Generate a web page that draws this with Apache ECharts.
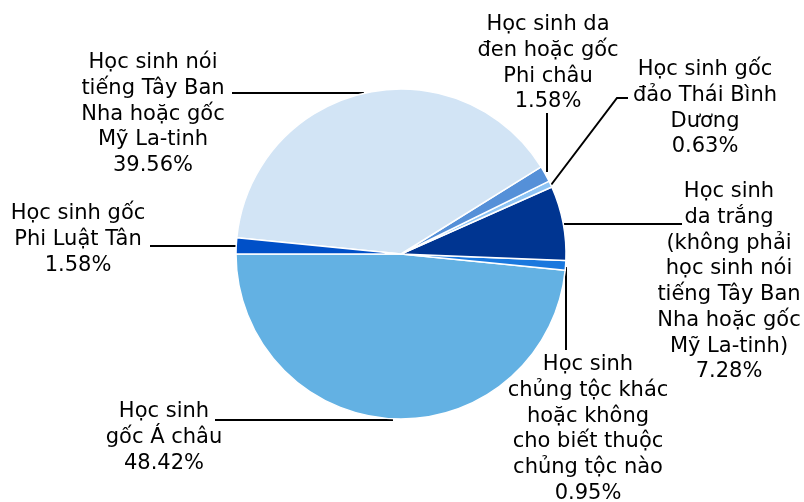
<!DOCTYPE html>
<html>
<head>
<meta charset="utf-8">
<script src="https://cdn.jsdelivr.net/npm/echarts@6/dist/echarts.min.js"></script>
<style>
  html, body { margin: 0; padding: 0; background: #fff; }
  #chart { width: 804px; height: 502px; }
</style>
</head>
<body>
<div id="chart"></div>
<script>
  // slice order: counter-clockwise starting from 9 o'clock
  const names = [
    'Học sinh\ngốc Á châu',
    'Học sinh\nchủng tộc khác\nhoặc không\ncho biết thuộc\nchủng tộc nào',
    'Học sinh\nda trắng\n(không phải\nhọc sinh nói\ntiếng Tây Ban\nNha hoặc gốc\nMỹ La-tinh)',
    'Học sinh gốc\nđảo Thái Bình\nDương',
    'Học sinh da\nđen hoặc gốc\nPhi châu',
    'Học sinh nói\ntiếng Tây Ban\nNha hoặc gốc\nMỹ La-tinh',
    'Học sinh gốc\nPhi Luật Tân'
  ]
  const percents = [48.42, 0.95, 7.28, 0.63, 1.58, 39.56, 1.58]
  const colors = ['#63b1e3', '#1a78de', '#003591', '#8ec4f4', '#5590d8', '#d2e4f5', '#0050c8']

  // label placement (center x, top y) and leader lines
  const labelPos = [
    { x: 164, y: 399, line: [[393, 420], [300, 420], [215, 420]] },
    { x: 588, y: 352, line: [[566, 267], [566, 300], [566, 350]] },
    { x: 729, y: 179, line: [[564, 224], [620, 224], [682, 224]] },
    { x: 705, y: 57, line: [[551, 185], [617, 98], [628, 98]] },
    { x: 548, y: 12, line: [[547, 172], [547, 140], [547, 113]] },
    { x: 153, y: 50, line: [[364, 93], [300, 93], [232, 93]] },
    { x: 78, y: 201, line: [[237, 246], [200, 246], [150, 246]] }
  ]

  const chart = echarts.init(document.getElementById('chart'))
  const option = {
    backgroundColor: '#fff',
    animation: false,
    series: [
      {
        type: 'pie',
        center: [401, 254],
        radius: 165,
        startAngle: 180,
        clockwise: false,
        avoidLabelOverlap: false,
        minShowLabelAngle: 0,
        itemStyle: {
          borderColor: '#fff',
          borderWidth: 1.5
        },
        emphasis: { disabled: true },
        label: {
          show: true,
          position: 'outside',
          color: '#000',
          fontFamily: 'DejaVu Sans',
          fontSize: 21,
          lineHeight: 25.7,
          align: 'center',
          formatter: p => p.name + '\n' + p.value.toFixed(2) + '%'
        },
        labelLine: {
          show: true,
          lineStyle: { color: '#000', width: 2 }
        },
        labelLayout: params => {
          const pos = labelPos[params.dataIndex]
          return {
            x: pos.x,
            y: pos.y,
            align: 'center',
            verticalAlign: 'top',
            labelLinePoints: pos.line
          }
        },
        data: names.map((n, i) => ({
          name: n,
          value: percents[i],
          itemStyle: { color: colors[i] }
        }))
      }
    ]
  }
  chart.setOption(option)
</script>
</body>
</html>
